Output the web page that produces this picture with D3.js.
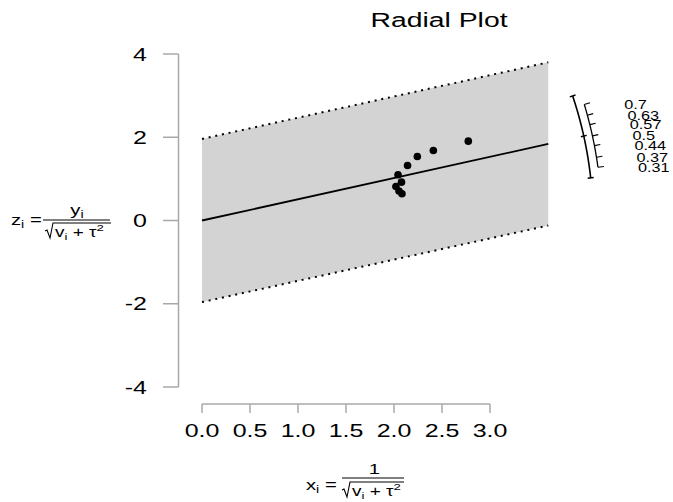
<!DOCTYPE html>
<html>
<head>
<meta charset="utf-8">
<script src="https://cdn.jsdelivr.net/npm/d3@7"></script>
<style>
  html, body { margin: 0; padding: 0; background: #fff; }
  svg text { font-family: "Liberation Sans", Arial, Helvetica, sans-serif; fill: #000; }
</style>
</head>
<body>
<svg id="chart" width="673" height="502"></svg>
<script>
// Radial (Galbraith) plot data
const xi = [2.774, 2.41, 2.243, 2.141, 2.042, 2.078, 2.02, 2.052, 2.083];
const zi = [1.906, 1.68, 1.538, 1.322, 1.099, 0.921, 0.817, 0.709, 0.642];
const estimate = 0.51;
const estimateCI = [0.253, 0.775];
const zcrit = 1.96;
const xRegionMax = 3.607;
const xTicks = [0, 0.5, 1, 1.5, 2, 2.5, 3];
const yTicks = [-4, -2, 0, 2, 4];
const arcTicks = [0.7, 0.63, 0.57, 0.5, 0.44, 0.37, 0.31];
const arcTickLabels = ["0.7", "0.63", "0.57", "0.5", "0.44", "0.37", "0.31"];

const svg = d3.select("#chart");
const x = d3.scaleLinear().domain([0, 3]).range([202, 490]);
const y = d3.scaleLinear().domain([-4, 4]).range([387, 54]);
const SX = 1.35; // horizontal text stretch

function txt(g, str, px, py, size, anchor, sx) {
  return g.append("text")
    .attr("transform", `translate(${px},${py}) scale(${sx || SX},1)`)
    .attr("font-size", size)
    .attr("text-anchor", anchor || "start")
    .text(str);
}

// title
txt(svg, "Radial Plot", 439, 27, 21, "middle");

// confidence region
const region = [
  [0, zcrit], [xRegionMax, zcrit + estimate * xRegionMax],
  [xRegionMax, -zcrit + estimate * xRegionMax], [0, -zcrit]
];
svg.append("path")
  .attr("d", d3.line().x(d => x(d[0])).y(d => y(d[1]))(region) + "Z")
  .attr("fill", "#d3d3d3");

[zcrit, -zcrit].forEach(off => {
  svg.append("line")
    .attr("x1", x(0)).attr("y1", y(off))
    .attr("x2", x(xRegionMax)).attr("y2", y(off + estimate * xRegionMax))
    .attr("stroke", "#000").attr("stroke-width", 2)
    .attr("stroke-dasharray", "2,4.8");
});

// fitted line
svg.append("line")
  .attr("x1", x(0)).attr("y1", y(0))
  .attr("x2", x(xRegionMax)).attr("y2", y(estimate * xRegionMax))
  .attr("stroke", "#000").attr("stroke-width", 1.8);

// points
svg.append("g").selectAll("circle")
  .data(xi.map((v, i) => [v, zi[i]]))
  .join("circle")
  .attr("cx", d => x(d[0])).attr("cy", d => y(d[1]))
  .attr("r", 3.8).attr("fill", "#000");

// y axis
const axCol = "#a8a8a8";
const yAx = svg.append("g");
yAx.append("line").attr("x1", 178.5).attr("x2", 178.5)
  .attr("y1", y(-4)).attr("y2", y(4)).attr("stroke", axCol).attr("stroke-width", 1.5);
yTicks.forEach(t => {
  yAx.append("line").attr("x1", 163).attr("x2", 178.5)
    .attr("y1", y(t)).attr("y2", y(t)).attr("stroke", axCol).attr("stroke-width", 1.5);
  txt(yAx, String(t), 147, y(t) + 6.7, 18.5, "end");
});

// x axis
const xAx = svg.append("g");
xAx.append("line").attr("x1", x(0)).attr("x2", x(3))
  .attr("y1", 404).attr("y2", 404).attr("stroke", axCol).attr("stroke-width", 1.5);
xTicks.forEach(t => {
  xAx.append("line").attr("x1", x(t)).attr("x2", x(t))
    .attr("y1", 404).attr("y2", 413).attr("stroke", axCol).attr("stroke-width", 1.5);
  txt(xAx, t.toFixed(1), x(t), 436.7, 18.5, "middle");
});

// arc scale for the estimate
const cx = x(0), cy = y(0);
const kyx = (y(0) - y(1)) / (x(1) - x(0));
function arcPt(v, r) {
  const th = Math.atan(v * kyx);
  return [cx + r * Math.cos(th), cy - r * Math.sin(th)];
}
function arcPath(v0, v1, r) {
  const pts = d3.range(0, 41).map(i => arcPt(v0 + (v1 - v0) * i / 40, r));
  return d3.line()(pts);
}
const arcG = svg.append("g").attr("stroke", "#000").attr("fill", "none");
const rCI = 391, rTick = 399.5;
arcG.append("path").attr("d", arcPath(estimateCI[0], estimateCI[1], rCI)).attr("stroke-width", 1.6);
[estimateCI[0], estimate, estimateCI[1]].forEach(v => {
  const a = arcPt(v, rCI - 3), b = arcPt(v, rCI + 3);
  arcG.append("line").attr("x1", a[0]).attr("y1", a[1]).attr("x2", b[0]).attr("y2", b[1]).attr("stroke-width", 1.4);
});
arcG.append("path").attr("d", arcPath(d3.min(arcTicks), d3.max(arcTicks), rTick)).attr("stroke-width", 1.3);
arcTicks.forEach((v, i) => {
  const a = arcPt(v, rTick), b = arcPt(v, rTick + 6);
  arcG.append("line").attr("x1", a[0]).attr("y1", a[1]).attr("x2", b[0]).attr("y2", b[1]).attr("stroke-width", 1.2);
  txt(svg, arcTickLabels[i], a[0] + 40, a[1] + 4.3, 12.5, "start", 1.3);
});

// square-root denominator: sqrt(v_i + tau^2)
function sqrtDenom(g, x0, base, w, size) {
  g.append("path")
    .attr("d", `M${x0},${base - 6} L${x0 + 2},${base - 7} L${x0 + 5},${base + 1} L${x0 + 8},${base - 14} L${x0 + 8 + w},${base - 14}`)
    .attr("fill", "none").attr("stroke", "#000").attr("stroke-width", 1.1);
  const t = g.append("text")
    .attr("transform", `translate(${x0 + 10},${base}) scale(${SX},1)`)
    .attr("font-size", size);
  t.append("tspan").text("v");
  t.append("tspan").attr("font-size", size * 0.7).attr("dy", 3).text("i");
  t.append("tspan").attr("dy", -3).text(" + \u03C4");
  t.append("tspan").attr("font-size", size * 0.7).attr("dy", -6).text("2");
}
function lhs(g, letter, px, py) {
  const t = g.append("text").attr("transform", `translate(${px},${py}) scale(${SX},1)`).attr("font-size", 15);
  t.append("tspan").text(letter);
  t.append("tspan").attr("font-size", 10.5).attr("dy", 3).text("i");
  t.append("tspan").attr("dy", -3).text(" =");
}

// y-axis label: z_i = y_i / sqrt(v_i + tau^2)
const yl = svg.append("g");
lhs(yl, "z", 11, 225);
{
  const n = yl.append("text").attr("transform", `translate(77,214.5) scale(${SX},1)`).attr("font-size", 15).attr("text-anchor", "middle");
  n.append("tspan").text("y");
  n.append("tspan").attr("font-size", 10.5).attr("dy", 3).text("i");
}
yl.append("line").attr("x1", 43).attr("x2", 110).attr("y1", 220).attr("y2", 220).attr("stroke", "#000").attr("stroke-width", 1.1);
sqrtDenom(yl, 45, 237, 58, 14);

// x-axis label: x_i = 1 / sqrt(v_i + tau^2)
const xl = svg.append("g");
lhs(xl, "x", 306, 490);
txt(xl, "1", 374.5, 473.5, 15, "middle");
xl.append("line").attr("x1", 342).attr("x2", 404).attr("y1", 478).attr("y2", 478).attr("stroke", "#000").attr("stroke-width", 1.1);
sqrtDenom(xl, 342, 496, 54, 14);
</script>
</body>
</html>
